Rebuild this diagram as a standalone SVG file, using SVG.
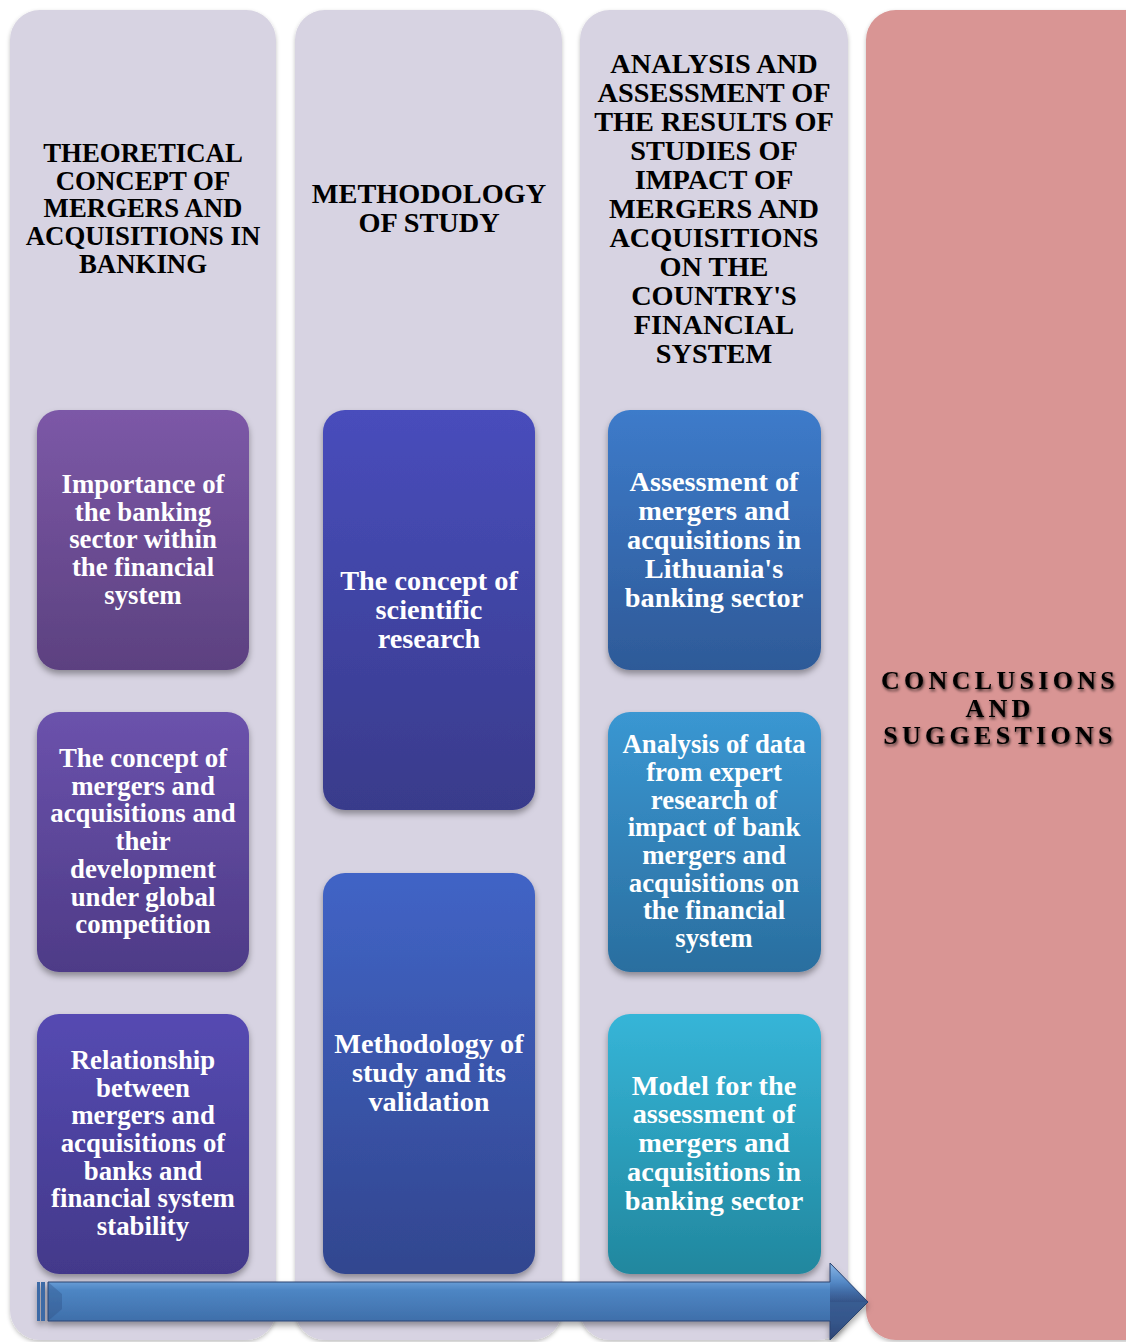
<svg xmlns="http://www.w3.org/2000/svg" width="1126" height="1342" viewBox="0 0 1126 1342">
  <defs>
    <filter id="colShadow" x="-5%" y="-2%" width="110%" height="104%">
      <feGaussianBlur in="SourceAlpha" stdDeviation="2"/>
      <feOffset dx="0" dy="2" result="b"/>
      <feFlood flood-color="#000" flood-opacity="0.25"/>
      <feComposite in2="b" operator="in"/>
      <feMerge><feMergeNode/><feMergeNode in="SourceGraphic"/></feMerge>
    </filter>
    <filter id="boxShadow" x="-10%" y="-10%" width="120%" height="125%">
      <feGaussianBlur in="SourceAlpha" stdDeviation="3"/>
      <feOffset dx="0" dy="4" result="b"/>
      <feFlood flood-color="#000" flood-opacity="0.35"/>
      <feComposite in2="b" operator="in"/>
      <feMerge><feMergeNode/><feMergeNode in="SourceGraphic"/></feMerge>
    </filter>
    <filter id="textShadow" x="-10%" y="-30%" width="120%" height="160%">
      <feGaussianBlur in="SourceAlpha" stdDeviation="1.6"/>
      <feOffset dx="1" dy="2" result="b"/>
      <feFlood flood-color="#000" flood-opacity="0.7"/>
      <feComposite in2="b" operator="in"/>
      <feMerge><feMergeNode/><feMergeNode in="SourceGraphic"/></feMerge>
    </filter>
    <linearGradient id="g11" x1="0" y1="0" x2="0" y2="1"><stop offset="0" stop-color="#7C58A7"/><stop offset="1" stop-color="#5C4180"/></linearGradient>
    <linearGradient id="g12" x1="0" y1="0" x2="0" y2="1"><stop offset="0" stop-color="#6B52AC"/><stop offset="1" stop-color="#4E3B87"/></linearGradient>
    <linearGradient id="g13" x1="0" y1="0" x2="0" y2="1"><stop offset="0" stop-color="#554AB2"/><stop offset="1" stop-color="#43398A"/></linearGradient>
    <linearGradient id="g21" x1="0" y1="0" x2="0" y2="1"><stop offset="0" stop-color="#484DBC"/><stop offset="1" stop-color="#393B8B"/></linearGradient>
    <linearGradient id="g22" x1="0" y1="0" x2="0" y2="1"><stop offset="0" stop-color="#4164C6"/><stop offset="1" stop-color="#32468F"/></linearGradient>
    <linearGradient id="g31" x1="0" y1="0" x2="0" y2="1"><stop offset="0" stop-color="#3D7BCA"/><stop offset="1" stop-color="#2E5A98"/></linearGradient>
    <linearGradient id="g32" x1="0" y1="0" x2="0" y2="1"><stop offset="0" stop-color="#3A97D2"/><stop offset="1" stop-color="#2A6E9F"/></linearGradient>
    <linearGradient id="g33" x1="0" y1="0" x2="0" y2="1"><stop offset="0" stop-color="#36B5D8"/><stop offset="1" stop-color="#21879E"/></linearGradient>
    <linearGradient id="arrowG" x1="0" y1="0" x2="0" y2="1">
      <stop offset="0" stop-color="#A9CFF5"/>
      <stop offset="0.15" stop-color="#7FB0E6"/>
      <stop offset="0.35" stop-color="#4E86C4"/>
      <stop offset="0.75" stop-color="#3F6FAA"/>
      <stop offset="0.9" stop-color="#35578C"/>
      <stop offset="1" stop-color="#2B3F66"/>
    </linearGradient>
    <linearGradient id="headG" x1="0" y1="0" x2="0" y2="1">
      <stop offset="0" stop-color="#7EAEE0"/>
      <stop offset="0.5" stop-color="#4B7FBE"/>
      <stop offset="1" stop-color="#2D4273"/>
    </linearGradient>
  </defs>
  <style>
    .col { fill: #D7D3E2; }
    .head { font-family: "Liberation Serif", "Times New Roman", serif; font-weight: bold; font-size: 26.8px; fill: #000; text-anchor: middle; }
    .lbl { font-family: "Liberation Serif", "Times New Roman", serif; font-weight: bold; font-size: 26.8px; fill: #FFFFFF; text-anchor: middle; }
    .big { font-size: 28.3px; }
    .concl { font-family: "Liberation Serif", "Times New Roman", serif; font-weight: bold; font-size: 26px; fill: #000; text-anchor: middle; letter-spacing: 4.3px; }
  </style>

  <rect width="1126" height="1342" fill="#FFFFFF"/>

  <!-- column 1 -->
  <g id="col-theory">
    <rect class="col" x="10" y="10" width="266" height="1330" rx="30" filter="url(#colShadow)"/>
    <text class="head"><tspan x="143" y="162">THEORETICAL</tspan><tspan x="143" y="190">CONCEPT OF</tspan><tspan x="143" y="217">MERGERS AND</tspan><tspan x="143" y="245">ACQUISITIONS IN</tspan><tspan x="143" y="273">BANKING</tspan></text>
  </g>
  <!-- column 2 -->
  <g id="col-method">
    <rect class="col" x="295" y="10" width="267" height="1330" rx="30" filter="url(#colShadow)"/>
    <text class="head big"><tspan x="429" y="203">METHODOLOGY</tspan><tspan x="429" y="232">OF STUDY</tspan></text>
  </g>
  <!-- column 3 -->
  <g id="col-analysis">
    <rect class="col" x="580" y="10" width="268" height="1330" rx="30" filter="url(#colShadow)"/>
    <text class="head big"><tspan x="714" y="73">ANALYSIS AND</tspan><tspan x="714" y="102">ASSESSMENT OF</tspan><tspan x="714" y="131">THE RESULTS OF</tspan><tspan x="714" y="160">STUDIES OF</tspan><tspan x="714" y="189">IMPACT OF</tspan><tspan x="714" y="218">MERGERS AND</tspan><tspan x="714" y="247">ACQUISITIONS</tspan><tspan x="714" y="276">ON THE</tspan><tspan x="714" y="305">COUNTRY'S</tspan><tspan x="714" y="334">FINANCIAL</tspan><tspan x="714" y="363">SYSTEM</tspan></text>
  </g>
  <!-- column 4 -->
  <g id="col-conclusions">
    <rect x="866" y="10" width="290" height="1330" rx="30" fill="#D99594" filter="url(#colShadow)"/>
    <text class="concl" filter="url(#textShadow)"><tspan x="1000" y="689">CONCLUSIONS</tspan><tspan x="1000" y="717">AND</tspan><tspan x="1000" y="744">SUGGESTIONS</tspan></text>
  </g>

  <!-- column 1 items -->
  <g id="box-importance">
    <rect x="37" y="410" width="212" height="260" rx="22" fill="url(#g11)" filter="url(#boxShadow)"/>
    <text class="lbl"><tspan x="143" y="493">Importance of</tspan><tspan x="143" y="521">the banking</tspan><tspan x="143" y="548">sector within</tspan><tspan x="143" y="576">the financial</tspan><tspan x="143" y="604">system</tspan></text>
  </g>
  <g id="box-concept-ma">
    <rect x="37" y="712" width="212" height="260" rx="22" fill="url(#g12)" filter="url(#boxShadow)"/>
    <text class="lbl"><tspan x="143" y="767">The concept of</tspan><tspan x="143" y="795">mergers and</tspan><tspan x="143" y="822">acquisitions and</tspan><tspan x="143" y="850">their</tspan><tspan x="143" y="878">development</tspan><tspan x="143" y="906">under global</tspan><tspan x="143" y="933">competition</tspan></text>
  </g>
  <g id="box-relationship">
    <rect x="37" y="1014" width="212" height="260" rx="22" fill="url(#g13)" filter="url(#boxShadow)"/>
    <text class="lbl"><tspan x="143" y="1069">Relationship</tspan><tspan x="143" y="1097">between</tspan><tspan x="143" y="1124">mergers and</tspan><tspan x="143" y="1152">acquisitions of</tspan><tspan x="143" y="1180">banks and</tspan><tspan x="143" y="1207">financial system</tspan><tspan x="143" y="1235">stability</tspan></text>
  </g>

  <!-- column 2 items -->
  <g id="box-scientific">
    <rect x="323" y="410" width="212" height="400" rx="22" fill="url(#g21)" filter="url(#boxShadow)"/>
    <text class="lbl big"><tspan x="429" y="590">The concept of</tspan><tspan x="429" y="619">scientific</tspan><tspan x="429" y="648">research</tspan></text>
  </g>
  <g id="box-methodology">
    <rect x="323" y="873" width="212" height="401" rx="22" fill="url(#g22)" filter="url(#boxShadow)"/>
    <text class="lbl big"><tspan x="429" y="1053">Methodology of</tspan><tspan x="429" y="1082">study and its</tspan><tspan x="429" y="1111">validation</tspan></text>
  </g>

  <!-- column 3 items -->
  <g id="box-assessment">
    <rect x="608" y="410" width="213" height="260" rx="22" fill="url(#g31)" filter="url(#boxShadow)"/>
    <text class="lbl big"><tspan x="714" y="491">Assessment of</tspan><tspan x="714" y="520">mergers and</tspan><tspan x="714" y="549">acquisitions in</tspan><tspan x="714" y="578">Lithuania's</tspan><tspan x="714" y="607">banking sector</tspan></text>
  </g>
  <g id="box-expert">
    <rect x="608" y="712" width="213" height="260" rx="22" fill="url(#g32)" filter="url(#boxShadow)"/>
    <text class="lbl"><tspan x="714" y="753">Analysis of data</tspan><tspan x="714" y="781">from expert</tspan><tspan x="714" y="809">research of</tspan><tspan x="714" y="836">impact of bank</tspan><tspan x="714" y="864">mergers and</tspan><tspan x="714" y="892">acquisitions on</tspan><tspan x="714" y="919">the financial</tspan><tspan x="714" y="947">system</tspan></text>
  </g>
  <g id="box-model">
    <rect x="608" y="1014" width="213" height="260" rx="22" fill="url(#g33)" filter="url(#boxShadow)"/>
    <text class="lbl big"><tspan x="714" y="1095">Model for the</tspan><tspan x="714" y="1123">assessment of</tspan><tspan x="714" y="1152">mergers and</tspan><tspan x="714" y="1181">acquisitions in</tspan><tspan x="714" y="1210">banking sector</tspan></text>
  </g>

  <!-- progress arrow -->
  <g id="connectors">
    <g filter="url(#boxShadow)">
      <rect x="37" y="1282" width="3" height="39" fill="#3E6AA6"/>
      <rect x="41" y="1282" width="4" height="39" fill="#3E6AA6"/>
      <path d="M48 1282 H830 V1263 L868 1302 L830 1340 V1321 H48 Z" fill="url(#arrowG)"/>
      <path d="M830 1263 L868 1302 L830 1302 Z" fill="url(#headG)" opacity="0.7"/>
      <path d="M830 1302 L868 1302 L830 1340 Z" fill="#2E4676" opacity="0.6"/>
      <path d="M48 1282 L62 1294 V1309 L48 1321 Z" fill="#2E4D80" opacity="0.35"/>
      <path d="M48 1282 H830 V1263 L868 1302 L830 1340 V1321 H48 Z" fill="none" stroke="#2C4471" stroke-width="1"/>
    </g>
  </g>
</svg>
